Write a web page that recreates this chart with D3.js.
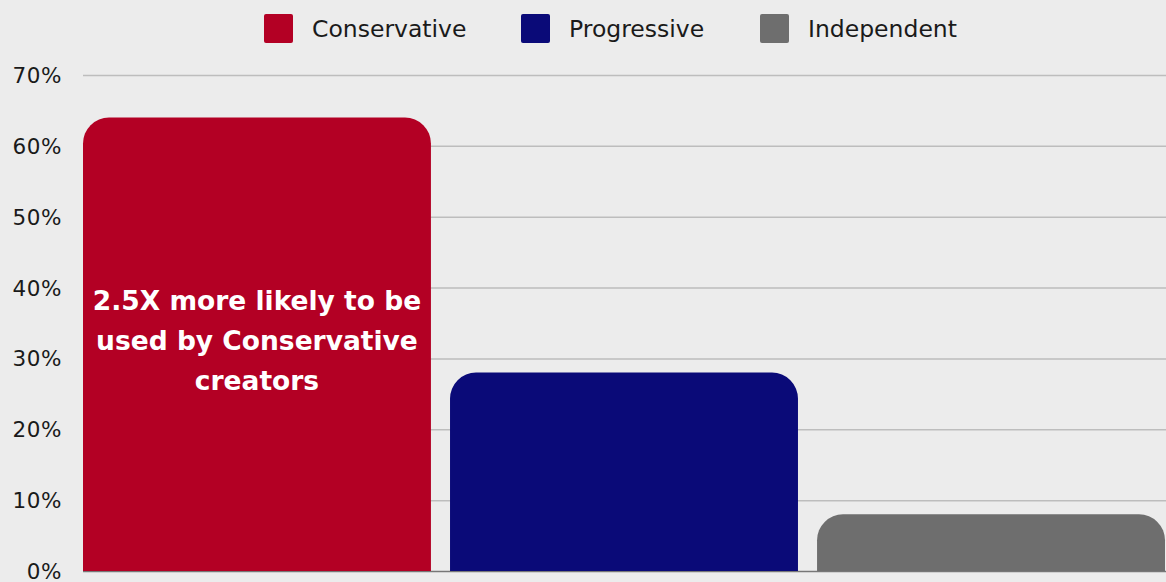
<!DOCTYPE html>
<html>
<head>
<meta charset="utf-8">
<script src="https://cdn.jsdelivr.net/npm/d3@7"></script>
<style>
  html, body { margin: 0; padding: 0; background: #ececec; }
  svg { display: block; }
  text { font-family: "DejaVu Sans", "Open Sans", sans-serif; }
</style>
</head>
<body>
<svg id="chart" width="1166" height="582"></svg>
<script>
const categories = ["Conservative", "Progressive", "Independent"];
const values = [64, 28, 8];
const colors = ["#b30024", "#0a0a78", "#6e6e6e"];
const yTicks = [0, 10, 20, 30, 40, 50, 60, 70];
const annotation = ["2.5X more likely to be", "used by Conservative", "creators"];

const W = 1166, H = 582;
const margin = { left: 83, right: 1, top: 75, bottom: 11 };
const svg = d3.select("#chart");
svg.append("rect").attr("width", W).attr("height", H).attr("fill", "#ececec");

const x = d3.scaleBand().domain(categories).range([margin.left, W - margin.right]).paddingInner(0.052).paddingOuter(0);
const y = d3.scaleLinear().domain([0, 70]).range([H - margin.bottom, margin.top]);

// gridlines
const yAxis = d3.axisLeft(y).tickValues(yTicks).tickFormat(d => d + "%").tickSize(-(W - margin.left)).tickPadding(21);
const gy = svg.append("g").attr("transform", `translate(${margin.left},0)`).call(yAxis);
gy.select(".domain").remove();
gy.selectAll(".tick line").attr("stroke", d => d === 0 ? "#777" : "#bdbdbd").attr("stroke-width", 1.5);
gy.selectAll(".tick text").attr("fill", "#1a1a1a").attr("font-size", 21.5).attr("font-weight", 400)
  .attr("letter-spacing", 0.6).attr("dy", "0.35em").style("font-family", "'DejaVu Sans', sans-serif");

// bars with rounded top corners
const r = 26;
function barPath(x0, w, yTop, yBase) {
  const rr = Math.min(r, (yBase - yTop), w / 2);
  return `M${x0},${yBase} L${x0},${yTop + rr} A${rr},${rr} 0 0 1 ${x0 + rr},${yTop} L${x0 + w - rr},${yTop} A${rr},${rr} 0 0 1 ${x0 + w},${yTop + rr} L${x0 + w},${yBase} Z`;
}
svg.append("g").selectAll("path").data(categories).join("path")
  .attr("d", (d, i) => barPath(x(d), x.bandwidth(), y(values[i]), y(0)))
  .attr("fill", (d, i) => colors[i]);

// annotation
const ax = x(categories[0]) + x.bandwidth() / 2;
svg.append("text").attr("text-anchor", "middle").attr("fill", "#fff")
  .attr("font-size", 26.5).attr("font-weight", 700)
  .selectAll("tspan").data(annotation).join("tspan")
  .attr("x", ax).attr("y", (d, i) => y(36.8) + i * 40)
  .text(d => d);

// legend
const legendX = [264, 521, 760];
const lg = svg.append("g").selectAll("g").data(categories).join("g")
  .attr("transform", (d, i) => `translate(${legendX[i]},14)`);
lg.append("rect").attr("width", 29).attr("height", 29).attr("rx", 2).attr("fill", (d, i) => colors[i]);
lg.append("text").attr("x", 48).attr("y", 15).attr("dy", "0.35em")
  .attr("font-size", 23.5).attr("font-weight", 400).attr("fill", "#1a1a1a").text(d => d);
</script>
</body>
</html>
